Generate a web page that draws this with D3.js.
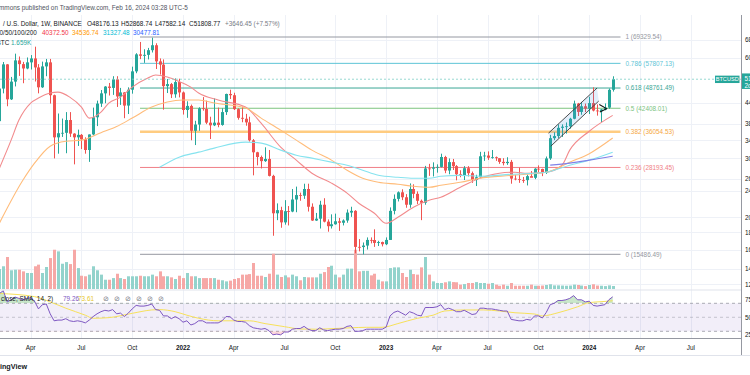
<!DOCTYPE html>
<html lang="en">
<head>
<meta charset="UTF-8">
<title>BTCUSD 1W</title>
<script src="https://d3js.org/d3.v7.min.js"></script>
<style>
  body { margin: 0; background: #ffffff; }
  svg { display: block; font-family: "Liberation Sans", Arial, sans-serif; }
  .grid line { stroke: #eef1f7; stroke-width: 1; shape-rendering: crispEdges; }
  .tick-text { fill: #131722; font-size: 6.4px; }
</style>
</head>
<body>
<div id="chart"></div>
<script>
const width = 750, height = 375;
const axisX = 741; // price scale border

// weekly bars, week of 8 Feb 2021 .. week of 12 Feb 2024
const opens = [
  38800, 48580, 57400, 45100, 50960, 59000, 57500, 55800, 58200, 59800,
  56200, 49000, 56600, 58200, 46400, 34700, 35700, 35800, 39100, 35600,
  34700, 35300, 34250, 31800, 35400, 39850, 43800, 47000, 49250, 48800,
  51750, 46000, 47300, 43200, 48200, 54700, 61500, 60900, 61300, 63300,
  65500, 58600, 57300, 49400, 50100, 46700, 50800, 47300, 41900, 43100,
  36300, 37900, 42400, 42200, 38400, 37700, 38400, 37800, 41300, 46800,
  46400, 42150, 39700, 39450, 38470, 34000, 31300, 30300, 29450, 29900,
  26600, 20550, 21000, 19300, 20850, 20800, 22600, 23300, 23200, 24300,
  21500, 19550, 19800, 21800, 19400, 18800, 19050, 19450, 19250, 19550,
  20650, 20900, 16300, 16280, 16450, 17100, 17090, 16750, 16850, 16600,
  17100, 20900, 22700, 23750, 22950, 21800, 24300, 23500, 22400, 22100,
  28000, 27950, 28200, 28300, 30300, 27600, 29250, 28450, 26900, 26750,
  28050, 27100, 25850, 26350, 30450, 30600, 30150, 30250, 30050, 29300,
  29050, 29300, 26100, 26000, 25850, 25830, 26550, 26250, 27950, 27900,
  27150, 30000, 34500, 35000, 37050, 37350, 37450, 39450, 43800, 41350,
  43000, 42300, 43950, 41750, 41600, 42050, 42600, 48176.13
];
const highs = [
  49700, 58350, 57500, 52640, 61800, 60600, 58400, 60200, 61200, 64850,
  57500, 58500, 59600, 59600, 46600, 40900, 39500, 41300, 41300, 35700,
  36600, 35500, 34700, 35400, 42600, 44700, 48100, 49400, 50500, 52900,
  52900, 48800, 47400, 49000, 56500, 62000, 67000, 63700, 64300, 69000,
  66400, 59800, 59400, 51900, 50500, 52100, 52000, 47600, 44500, 43500,
  38900, 42700, 45800, 44700, 40000, 45400, 42600, 42400, 46900, 48200,
  47200, 42400, 42900, 40800, 40000, 34300, 31400, 30600, 32400, 31800,
  26800, 22000, 21500, 22500, 21600, 24300, 24700, 23700, 25200, 25200,
  22000, 20600, 22400, 22800, 19700, 20400, 20500, 19900, 19700, 21100,
  21500, 21000, 17200, 16800, 17400, 17400, 18400, 17000, 16900, 17400,
  21400, 23400, 23900, 24250, 23450, 25250, 25100, 23900, 22600, 28500,
  28900, 29200, 28800, 31000, 30550, 30000, 29900, 28650, 27650, 28450,
  28450, 27400, 26800, 31400, 31400, 31500, 31800, 30400, 30050, 30050,
  30250, 29700, 26800, 28150, 26400, 26850, 27500, 28050, 28600, 27950,
  30400, 35300, 35950, 37950, 37950, 38450, 39700, 44700, 44000, 44300,
  43800, 45900, 49000, 43550, 42200, 43850, 48600, 52868.74
];
const lows = [
  37990, 47000, 43000, 44900, 49300, 53000, 50400, 55500, 55400, 51000,
  47000, 48800, 52900, 43800, 30000, 31000, 34800, 31100, 34800, 28800,
  32700, 32000, 31000, 29300, 35200, 37500, 42800, 43900, 46300, 46500,
  42800, 43400, 39600, 40750, 46900, 54000, 59500, 58000, 59400, 62300,
  55600, 53500, 42000, 47100, 45500, 45600, 45700, 40600, 39700, 34000,
  32900, 36300, 41700, 38000, 34300, 37500, 37200, 37600, 40500, 45200,
  41900, 39200, 38500, 37600, 33700, 26700, 28600, 28000, 29300, 26500,
  17600, 19600, 18600, 19000, 18900, 20700, 20700, 22400, 22700, 20800,
  19500, 19500, 18500, 19300, 18100, 18500, 19000, 18200, 18900, 19250,
  20050, 15600, 15800, 15480, 16000, 16700, 16300, 16400, 16350, 16500,
  17100, 20400, 22300, 22500, 21350, 21350, 22800, 21900, 19600, 21800,
  26600, 26500, 27200, 28200, 27100, 26900, 27700, 25800, 26350, 25850,
  26500, 25350, 24800, 26250, 29500, 29700, 29950, 29500, 28900, 28600,
  28700, 25200, 25800, 25350, 25350, 24900, 26400, 26000, 27200, 26550,
  26950, 29700, 34050, 34500, 34800, 35600, 36850, 39300, 40200, 40550,
  41300, 40750, 41500, 40300, 38550, 41800, 42250, 47582.14
];
const closes = [
  48580, 57400, 45100, 50960, 59000, 57500, 55800, 58200, 59800, 56200,
  49000, 56600, 58200, 46400, 34700, 35700, 35800, 39100, 35600, 34700,
  35300, 34250, 31800, 35400, 39850, 43800, 47000, 49250, 48800, 51750,
  46000, 47300, 43200, 48200, 54700, 61500, 60900, 61300, 63300, 65500,
  58600, 57300, 49400, 50100, 46700, 50800, 47300, 41900, 43100, 36300,
  37900, 42400, 42200, 38400, 37700, 38400, 37800, 41300, 46800, 46400,
  42150, 39700, 39450, 38470, 34000, 31300, 30300, 29450, 29900, 26600,
  20550, 21000, 19300, 20850, 20800, 22600, 23300, 23200, 24300, 21500,
  19550, 19800, 21800, 19400, 18800, 19050, 19450, 19250, 19550, 20650,
  20900, 16300, 16280, 16450, 17100, 17090, 16750, 16850, 16600, 17100,
  20900, 22700, 23750, 22950, 21800, 24300, 23500, 22400, 22100, 28000,
  27950, 28200, 28300, 30300, 27600, 29250, 28450, 26900, 26750, 28050,
  27100, 25850, 26350, 30450, 30600, 30150, 30250, 30050, 29300, 29050,
  29300, 26100, 26000, 25850, 25830, 26550, 26250, 27950, 27900, 27150,
  30000, 34500, 35000, 37050, 37350, 37450, 39450, 43800, 41350, 43000,
  42300, 43950, 41750, 41600, 42050, 42600, 48160, 51808.77
];
// volume, thousands of BTC
const volumes = [
  11, 12.5, 17.6, 10.3, 10.6, 10.6, 9.7, 8.8, 8.8, 12.5,
  13.4, 8.8, 12.1, 17, 21.6, 20.7, 13.9, 14.8, 13.7, 21.6,
  11.5, 7.3, 7, 7.9, 12.5, 10.3, 7.9, 5.1, 5.1, 6,
  8.4, 6, 5.5, 7, 7, 7, 7.3, 7, 7, 7.9,
  7, 9.7, 7, 7, 6.4, 5.5, 7.3, 6, 8.8, 7,
  7, 6, 6, 6, 6, 6, 5.1, 4.8, 4.2, 4.6,
  5.5, 6, 7.9, 7.9, 8.2, 14.3, 7.3, 7.3, 6.6, 8.4,
  19.4, 7.9, 6.6, 7.5, 6.4, 7.9, 7, 4.8, 6.6, 6.4,
  6.4, 6.4, 8.4, 9.3, 12.1, 12.8, 7.9, 6.4, 7.9, 11.2,
  11.2, 21.6, 9.7, 10, 10, 7.5, 8.4, 5.1, 4.2, 4.2,
  11.5, 11.9, 11.9, 8.8, 6.6, 10.6, 8.2, 7.9, 11.9, 17.6,
  7.9, 4.2, 3.3, 3.3, 3.7, 4.2, 3.8, 3.7, 2.4, 2.7,
  3.3, 3.3, 3.8, 3.3, 3.3, 2.9, 3.3, 2.4, 1.8, 2.4,
  1.8, 3.3, 1.8, 1.8, 1.8, 1.8, 2.4, 1.8, 1.8, 1.9,
  2.2, 2.6, 2.0, 2.0, 1.9, 1.8, 1.9, 2.4, 2.2, 1.9,
  1.6, 2.2, 2.6, 1.9, 1.8, 1.6, 2.0, 1.659
];
const rsi = [
  84, 88, 72, 75, 79, 77, 75, 77, 78, 73,
  62, 68, 69, 55, 45, 46, 46, 48, 45, 44,
  45, 44, 42, 46, 51, 55, 58, 60, 59, 61,
  55, 56, 51, 56, 62, 67, 66, 66, 67, 69,
  61, 60, 52, 52, 48, 51, 48, 43, 45, 39,
  41, 45, 45, 42, 42, 42, 42, 45, 51, 51,
  46, 44, 44, 43, 38, 35, 34, 33, 34, 31,
  25, 26, 25, 29, 29, 33, 34, 34, 37, 33,
  31, 31, 35, 32, 31, 32, 33, 33, 34, 37,
  38, 30, 30, 31, 33, 33, 33, 33, 33, 36,
  52, 57, 59, 56, 53, 58, 56, 53, 52, 64,
  64, 64, 65, 68, 61, 63, 61, 58, 58, 60,
  57, 54, 55, 63, 63, 62, 62, 61, 60, 59,
  59, 47, 46, 45, 45, 47, 46, 52, 52, 49,
  57, 68, 70, 74, 74, 75, 77, 81, 75, 75,
  72, 73, 67, 66, 67, 68, 75, 79.26
];

// smoothed lines: [bar index, value]
const rsiSma = [[0, 84], [9, 79.5], [13, 72], [17, 63], [22, 53], [24, 48.6], [28, 49.5], [34, 55.7],
  [39, 60.5], [41, 61], [45, 58], [48, 53], [51, 48.6], [56, 45], [60, 45], [64, 45], [68, 41],
  [73, 36.6], [77, 33.3], [81, 33], [86, 34], [90, 35], [94, 35.7], [98, 35.7], [102, 41],
  [107, 48.6], [111, 53], [114, 59], [119, 60.5], [124, 60.5], [128, 59], [132, 56.5],
  [137, 54.7], [139, 52], [143, 56.5], [148, 65], [151, 71], [154, 72.3], [157, 73.61]];
const ma20 = [[0, 28040], [3, 34040], [5, 39080], [8, 43960], [10, 45500], [13, 47100], [15, 47400],
  [18, 45800], [21, 42750], [23, 39620], [26, 41300], [28, 43960], [31, 45800], [34, 49070],
  [38, 52250], [40, 53350], [43, 52600], [46, 51000], [49, 49070], [51, 47100], [56, 44880],
  [63, 42750], [67, 38270], [72, 32430], [76, 29650], [80, 27090], [85, 25300], [89, 23610],
  [92, 22030], [96, 20560], [99, 19180], [102, 20000], [106, 21430], [110, 22480], [113, 22950],
  [118, 24590], [123, 26170], [128, 27090], [132, 27280], [135, 27090], [140, 27280],
  [144, 28630], [146, 31770], [151, 36200], [157, 40372.5]];
const ma50 = [[0, 19200], [6, 25810], [9, 29050], [13, 32650], [17, 33780], [21, 34040], [26, 35840],
  [30, 37380], [34, 39630], [39, 42750], [43, 44280], [47, 44880], [51, 44880], [55, 43960],
  [63, 42460], [67, 39620], [72, 36470], [76, 34040], [80, 31770], [85, 29650], [89, 27660],
  [93, 26170], [97, 25450], [102, 25100], [106, 24760], [110, 24590], [113, 24930],
  [118, 25450], [123, 26170], [131, 26700], [140, 27280], [146, 29240], [151, 31000],
  [157, 34536.74]];
const ma100 = [[41, 28220], [46, 30270], [51, 31330], [55, 32220], [63, 33580], [67, 33350],
  [72, 31770], [76, 30680], [80, 30060], [85, 29240], [89, 28640], [93, 27660], [97, 26700],
  [102, 26340], [106, 26170], [110, 26170], [113, 26520], [118, 26700], [123, 26520],
  [131, 26890], [140, 27280], [146, 28640], [151, 29650], [157, 31327.48]];
const ma200 = [[141, 28640], [146, 29050], [151, 29650], [157, 30477.81]];

// fibonacci retracement
const fibLevels = ["1", "0.786", "0.618", "0.5", "0.382", "0.236", "0"];
const fibPrices = [69329.54, 57807.13, 48761.49, 42408.01, 36054.53, 28193.45, 15486.49];
const fibColors = ["#9598a1", "#5ec5d6", "#3aa796", "#7cc47f", "#ffcc80", "#f07f86", "#9598a1"];
const fibSpan = [new Date(2021, 9, 18), new Date(2024, 1, 26)];

// drawings: rising channel and arrow
const channelUpper = [[new Date(2023, 9, 20), 35720], [new Date(2024, 0, 15), 48770]];
const channelLower = [[new Date(2023, 9, 24), 32640], [new Date(2024, 0, 18), 44570]];
const arrowPts = [[new Date(2024, 0, 19), 43500], [new Date(2024, 1, 1), 42300], [new Date(2024, 0, 20), 41300]];

// axes
const timeTicks = [
  [new Date(2021, 3, 5), "Apr"], [new Date(2021, 6, 5), "Jul"], [new Date(2021, 9, 4), "Oct"],
  [new Date(2022, 0, 3), "2022"], [new Date(2022, 3, 4), "Apr"], [new Date(2022, 6, 4), "Jul"],
  [new Date(2022, 9, 3), "Oct"], [new Date(2023, 0, 2), "2023"], [new Date(2023, 3, 3), "Apr"],
  [new Date(2023, 6, 3), "Jul"], [new Date(2023, 9, 2), "Oct"], [new Date(2024, 0, 1), "2024"],
  [new Date(2024, 3, 1), "Apr"], [new Date(2024, 6, 1), "Jul"]
];
const priceTicks = [68000, 60000, 44000, 38000, 34000, 30000, 26000, 24000, 20000, 18000, 16000, 14000, 12600];
const rsiTicks = [75, 50, 25];

const weeks = d3.timeMonday.range(new Date(2021, 1, 8), new Date(2024, 1, 13));

const x = d3.scaleTime()
  .domain([new Date(2022, 0, 3), new Date(2024, 1, 12)])
  .range([183, 612.7]);
const y = d3.scaleLog().domain([15486.49, 69329.54]).range([254.3, 37]);
const yVol = d3.scaleLinear().domain([0, 22]).range([289, 249]);
const yRsi = d3.scaleLinear().domain([30, 70]).range([331.3, 303.3]);

const svg = d3.select("#chart").append("svg")
  .attr("width", width).attr("height", height);

const defs = svg.append("defs");
defs.append("clipPath").attr("id", "pricePane").append("rect")
  .attr("x", 0).attr("y", 15).attr("width", axisX).attr("height", 275);
defs.append("clipPath").attr("id", "rsiPane").append("rect")
  .attr("x", 0).attr("y", 290).attr("width", axisX).attr("height", 48);
defs.append("clipPath").attr("id", "obClip").append("rect")
  .attr("x", 0).attr("y", 290).attr("width", axisX).attr("height", yRsi(70) - 290);
defs.append("clipPath").attr("id", "osClip").append("rect")
  .attr("x", 0).attr("y", yRsi(30)).attr("width", axisX).attr("height", 338 - yRsi(30));

// grid
const grid = svg.append("g").attr("class", "grid");
grid.selectAll(".v").data(timeTicks).enter().append("line")
  .attr("x1", d => Math.round(x(d[0])) + 0.5).attr("x2", d => Math.round(x(d[0])) + 0.5)
  .attr("y1", 15).attr("y2", 338);
grid.selectAll(".h").data(priceTicks).enter().append("line")
  .attr("x1", 0).attr("x2", axisX)
  .attr("y1", d => Math.round(y(d)) + 0.5).attr("y2", d => Math.round(y(d)) + 0.5);

const price = svg.append("g").attr("clip-path", "url(#pricePane)");

// fib levels
fibPrices.forEach((p, k) => {
  price.append("line")
    .attr("x1", x(fibSpan[0])).attr("x2", x(fibSpan[1]))
    .attr("y1", y(p)).attr("y2", y(p))
    .attr("stroke", fibColors[k])
    .attr("stroke-width", fibLevels[k] === "0.382" ? 2.4 : 1);
});

// volume
price.selectAll(".vol").data(volumes).enter().append("rect")
  .attr("x", (d, i) => Math.round(x(weeks[i])) - 1)
  .attr("y", d => yVol(d))
  .attr("width", 3)
  .attr("height", d => 289 - yVol(d))
  .attr("fill", (d, i) => closes[i] >= opens[i] ? "#93d3cc" : "#f6a8a6");

// candles
const up = "#26a69a", down = "#ef5350";
const candles = price.append("g");
weeks.forEach((w, i) => {
  const cx = Math.round(x(w)) + 0.5;
  const col = closes[i] >= opens[i] ? up : down;
  candles.append("line")
    .attr("x1", cx).attr("x2", cx)
    .attr("y1", y(highs[i])).attr("y2", y(lows[i]))
    .attr("stroke", col).attr("stroke-width", 1);
  const top = y(Math.max(opens[i], closes[i]));
  const bot = y(Math.min(opens[i], closes[i]));
  candles.append("rect")
    .attr("x", cx - 1.5).attr("y", top)
    .attr("width", 3).attr("height", Math.max(0.8, bot - top))
    .attr("fill", col);
});

// moving averages
const maLine = d3.line()
  .x(d => x(weeks[d[0]]))
  .y(d => y(d[1]))
  .curve(d3.curveMonotoneX);
[[ma20, "#f28b8d"], [ma50, "#ffbc7a"], [ma100, "#86e3ef"], [ma200, "#7f82e8"]].forEach(([data, c]) => {
  price.append("path").attr("d", maLine(data))
    .attr("fill", "none").attr("stroke", c).attr("stroke-width", 1.1);
});

// channel drawing
const pt = d => [x(d[0]), y(d[1])];
const chan = [pt(channelUpper[0]), pt(channelUpper[1]), pt(channelLower[1]), pt(channelLower[0])];
price.append("path")
  .attr("d", "M" + chan.join("L") + "Z")
  .attr("fill", "rgba(66,150,230,0.16)").attr("stroke", "none");
[channelUpper, channelLower].forEach(seg => {
  price.append("line")
    .attr("x1", pt(seg[0])[0]).attr("y1", pt(seg[0])[1])
    .attr("x2", pt(seg[1])[0]).attr("y2", pt(seg[1])[1])
    .attr("stroke", "#3a3a3a").attr("stroke-width", 0.9);
});
price.append("path")
  .attr("d", d3.line()(arrowPts.map(pt)))
  .attr("fill", "none").attr("stroke", "#111").attr("stroke-width", 1.1);

// last price line
const lastY = y(closes[closes.length - 1]);
svg.append("line")
  .attr("x1", 0).attr("x2", axisX).attr("y1", lastY).attr("y2", lastY)
  .attr("stroke", "#7fcfc6").attr("stroke-width", 0.8).attr("stroke-dasharray", "2,2");

// fib labels
fibPrices.forEach((p, k) => {
  svg.append("text")
    .attr("x", x(fibSpan[1]) + 5).attr("y", y(p) + 2.3)
    .attr("fill", fibLevels[k] === "0.382" ? "#f5a742" : fibColors[k])
    .attr("font-size", "6.4px")
    .text(fibLevels[k] + " (" + p.toFixed(2) + ")");
});

// RSI pane
const rsiG = svg.append("g").attr("clip-path", "url(#rsiPane)");
rsiG.append("rect")
  .attr("x", 0).attr("width", axisX)
  .attr("y", yRsi(70)).attr("height", yRsi(30) - yRsi(70))
  .attr("fill", "rgba(126,87,194,0.1)");
[70, 50, 30].forEach(v => {
  rsiG.append("line")
    .attr("x1", 0).attr("x2", axisX).attr("y1", yRsi(v)).attr("y2", yRsi(v))
    .attr("stroke", "#9598a1").attr("stroke-width", 0.8)
    .attr("stroke-dasharray", "3,3").attr("opacity", v === 50 ? 0.6 : 1);
});
const rsiX = (d, i) => x(weeks[i]);
rsiG.append("path")
  .attr("clip-path", "url(#obClip)")
  .attr("d", d3.area().x(rsiX).y0(yRsi(70)).y1(d => yRsi(d))(rsi))
  .attr("fill", "rgba(76,175,80,0.3)");
rsiG.append("path")
  .attr("clip-path", "url(#osClip)")
  .attr("d", d3.area().x(rsiX).y0(yRsi(30)).y1(d => yRsi(d))(rsi))
  .attr("fill", "rgba(242,54,69,0.2)");
rsiG.append("path")
  .attr("d", d3.line().x(d => x(weeks[d[0]])).y(d => yRsi(d[1])).curve(d3.curveMonotoneX)(rsiSma))
  .attr("fill", "none").attr("stroke", "#f7e15a").attr("stroke-width", 1);
rsiG.append("path")
  .attr("d", d3.line().x(rsiX).y(d => yRsi(d))(rsi))
  .attr("fill", "none").attr("stroke", "#7e57c2").attr("stroke-width", 1);

// frame lines
svg.append("line").attr("x1", 0).attr("x2", axisX).attr("y1", 290).attr("y2", 290)
  .attr("stroke", "#e0e3eb").attr("stroke-width", 1);
svg.append("line").attr("x1", 0).attr("x2", axisX).attr("y1", 338.5).attr("y2", 338.5)
  .attr("stroke", "#9598a1").attr("stroke-width", 1);
svg.append("line").attr("x1", 0).attr("x2", width).attr("y1", 355.5).attr("y2", 355.5)
  .attr("stroke", "#e0e3eb").attr("stroke-width", 1);
svg.append("line").attr("x1", axisX + 0.5).attr("x2", axisX + 0.5).attr("y1", 15).attr("y2", 355)
  .attr("stroke", "#9598a1").attr("stroke-width", 1);

// price axis labels
svg.selectAll(".pt").data(priceTicks).enter().append("text")
  .attr("class", "tick-text")
  .attr("x", 745).attr("y", d => y(d) + 2.3)
  .text(d => d3.format("d")(d));
svg.selectAll(".rt").data(rsiTicks).enter().append("text")
  .attr("class", "tick-text")
  .attr("x", 745).attr("y", d => yRsi(d) + 2.3)
  .text(d => d + ".00");

// time axis labels
svg.selectAll(".tt").data(timeTicks).enter().append("text")
  .attr("class", "tick-text")
  .attr("x", d => x(d[0])).attr("y", 350)
  .attr("text-anchor", "middle")
  .attr("font-weight", d => /^\d/.test(d[1]) ? "bold" : "normal")
  .text(d => d[1]);

// tags on price scale
svg.append("rect").attr("x", 715).attr("y", lastY - 3.6).attr("width", 24.5).attr("height", 7.4)
  .attr("fill", "#26a69a");
svg.append("text").attr("x", 727.2).attr("y", lastY + 2).attr("text-anchor", "middle")
  .attr("fill", "#fff").attr("font-size", "5.6px").text("BTCUSD");
svg.append("rect").attr("x", 742).attr("y", lastY - 5.8).attr("width", 10).attr("height", 15.5)
  .attr("fill", "#26a69a");
svg.append("text").attr("x", 744.5).attr("y", lastY + 2.2).attr("fill", "#fff")
  .attr("font-size", "6.4px").text("51808.77");
svg.append("text").attr("x", 744.5).attr("y", lastY + 8.5).attr("fill", "#fff")
  .attr("font-size", "6.4px").text("2d 20h");

// header
svg.append("text").attr("x", -1).attr("y", 9.5).attr("fill", "#50535e").attr("font-size", "6.4px")
  .text("mmons published on TradingView.com, Feb 16, 2024 03:28 UTC-5");

const l2 = svg.append("text").attr("y", 26.3).attr("font-size", "6.4px").attr("fill", "#131722");
l2.append("tspan").attr("x", 3).text("/ U.S. Dollar, 1W, BINANCE");
[["O", "48176.13", 87], ["H", "52868.74", 121], ["L", "47582.14", 155], ["C", "51808.77", 189]].forEach(([k, v, px]) => {
  l2.append("tspan").attr("x", px).text(k);
  l2.append("tspan").text(v);
});
l2.append("tspan").attr("x", 225).attr("fill", "#787b86").text("+3646.45 (+7.57%)");

const maVals = [["40372.50", "#f23645", 42], ["34536.74", "#ff9800", 72], ["31327.48", "#00bcd4", 103], ["30477.81", "#2962ff", 133]];
const l3 = svg.append("text").attr("y", 35.2).attr("font-size", "6.4px");
l3.append("tspan").attr("x", -4).attr("fill", "#131722").text("20/50/100/200");
maVals.forEach(([v, c, px]) => l3.append("tspan").attr("x", px).attr("fill", c).text(v));

const l4 = svg.append("text").attr("y", 44.5).attr("font-size", "6.4px");
l4.append("tspan").attr("x", -3.5).attr("fill", "#131722").text("BTC");
l4.append("tspan").attr("x", 11).attr("fill", "#26a69a").text("1.659K");

// RSI legend
const lr = svg.append("text").attr("y", 300.5).attr("font-size", "6.4px");
lr.append("tspan").attr("x", 1).attr("fill", "#131722").text("close, SMA, 14, 2)");
lr.append("tspan").attr("x", 63).attr("fill", "#7e57c2").text("79.26");
lr.append("tspan").attr("x", 78).attr("fill", "#e6c72c").text("73.61");
[106, 117, 128, 139, 150, 161].forEach(px => {
  svg.append("text").attr("x", px).attr("y", 300.8).attr("font-size", "7px")
    .attr("fill", "#787b86").attr("text-anchor", "middle").text("\u2298");
});

// footer
svg.append("text").attr("x", 27).attr("y", 368.5).attr("text-anchor", "end")
  .attr("font-size", "7.2px").attr("font-weight", "bold").attr("fill", "#131722")
  .text("TradingView");
</script>
</body>
</html>
